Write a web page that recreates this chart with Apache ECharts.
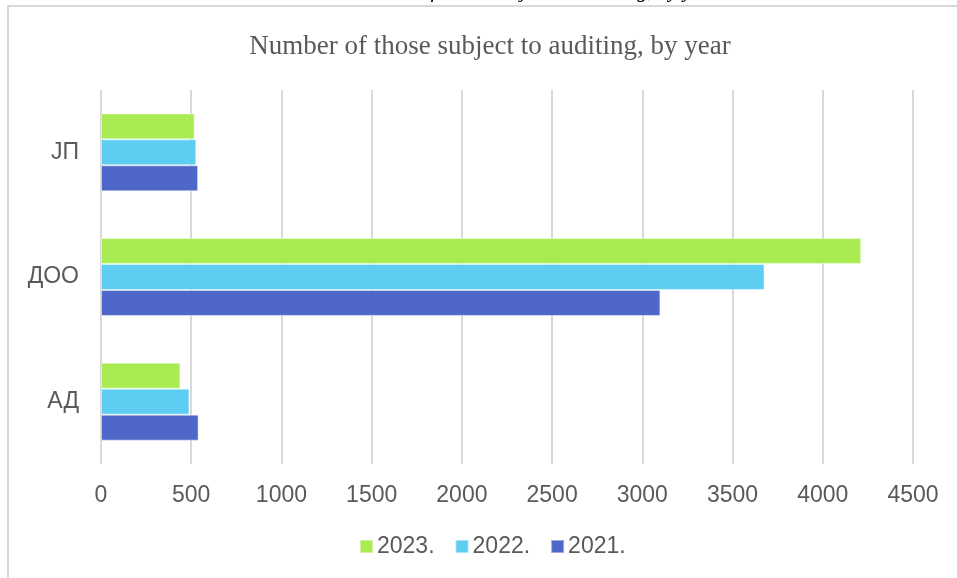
<!DOCTYPE html>
<html>
<head>
<meta charset="utf-8">
<script src="https://cdn.jsdelivr.net/npm/echarts@6/dist/echarts.min.js"></script>
<style>
html,body{margin:0;padding:0;background:#fff;}
#chart{width:957px;height:578px;}
</style>
</head>
<body>
<div id="chart"></div>
<script>
const categories = ['АД', 'ДОО', 'ЈП'];
const seriesNames = ['2023.', '2022.', '2021.'];
const values2023 = [440, 4213, 519];
const values2022 = [490, 3677, 528];
const values2021 = [541, 3100, 538];
const legendOrder = ['2023.', '2022.', '2021.'];
const colors = ['#a9eb52', '#5ecdf2', '#4f67c8'];
const titleText = 'Number of those subject to auditing, by year';
const captionText = 'Number of those subject to auditing, by year';

const chart = echarts.init(document.getElementById('chart'), null, {renderer: 'canvas'});
const dataSets = [values2023, values2022, values2021];
const font = 'Liberation Sans, Arial, sans-serif';

chart.setOption({
  animation: false,
  backgroundColor: '#fff',
  graphic: [
    {type: 'rect', shape: {x: 8, y: 6, width: 1200, height: 1200},
     style: {fill: 'none', stroke: '#d9d9d9', lineWidth: 2}, silent: true, z: -10},
    {type: 'text', x: 534, y: -19.5,
     style: {text: captionText, align: 'center', font: 'italic 21px "Liberation Serif", "Times New Roman", serif', fill: '#000'}}
  ],
  title: {
    text: titleText, left: 485, top: 28, textAlign: 'center',
    textStyle: {fontFamily: 'Liberation Serif, Times New Roman, serif', fontWeight: 'normal', fontSize: 27, color: '#595959'}
  },
  legend: {
    data: legendOrder, left: 354, top: 530, itemWidth: 13, itemHeight: 13, itemGap: 20,
    icon: 'rect',
    textStyle: {fontFamily: font, fontSize: 23, color: '#595959', padding: [0, 0, 0, -1]}
  },
  grid: {left: 101, right: 44, top: 90, bottom: 114, containLabel: false},
  xAxis: {
    type: 'value', min: 0, max: 4500, interval: 500,
    axisLine: {show: false}, axisTick: {show: false},
    axisLabel: {fontFamily: font, fontSize: 23, color: '#595959', margin: 20, formatter: v => String(v)},
    splitLine: {lineStyle: {color: '#d9d9d9', width: 2}}
  },
  yAxis: {
    type: 'category', data: categories,
    axisLine: {show: false}, axisTick: {show: false},
    axisLabel: {fontFamily: font, fontSize: 23, color: '#595959', margin: 22}
  },
  series: seriesNames.map((n, i) => ({
    name: n, type: 'bar', data: dataSets[i],
    barGap: '0%', barCategoryGap: '37.5%',
    itemStyle: {color: colors[i], borderColor: 'rgba(255,255,255,0.45)', borderWidth: 1}
  }))
});
</script>
</body>
</html>
